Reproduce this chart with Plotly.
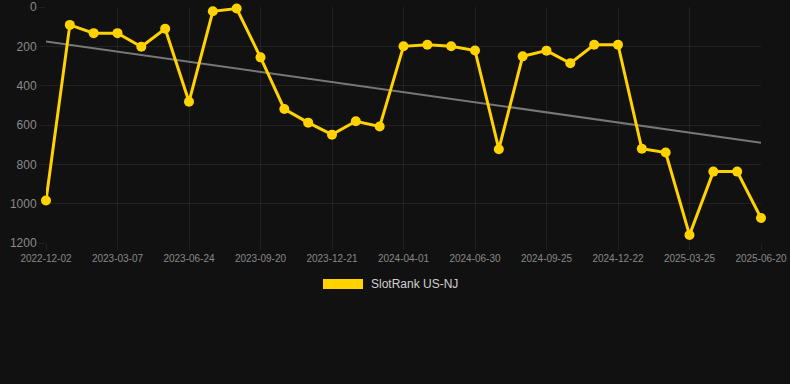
import numpy as np
import plotly.graph_objects as go

dates = [
    "2022-12-02", "2023-01-03", "2023-02-04", "2023-03-07", "2023-04-12", "2023-05-18",
    "2023-06-24", "2023-07-23", "2023-08-22", "2023-09-20", "2023-10-21", "2023-11-20",
    "2023-12-21", "2024-01-24", "2024-02-27", "2024-04-01", "2024-05-01", "2024-05-31",
    "2024-06-30", "2024-07-29", "2024-08-27", "2024-09-25", "2024-10-24", "2024-11-23",
    "2024-12-22", "2025-01-22", "2025-02-22", "2025-03-25", "2025-04-24", "2025-05-22",
    "2025-06-20",
]
ranks = [984, 91, 133, 133, 202, 111, 482, 22, 8, 256, 519, 588, 649, 581, 608,
         200, 192, 200, 221, 723, 251, 222, 286, 192, 192, 721, 740, 1159, 837, 837, 1073]
tick_labels = dates[::3]
y_ticks = [0, 200, 400, 600, 800, 1000, 1200]
series_name = "SlotRank US-NJ"

# linear trend fitted to the series
idx = np.arange(len(ranks))
slope, intercept = np.polyfit(idx, ranks, 1)
trend = [intercept, intercept + slope * idx[-1]]

BG = "#111111"
GRID = "rgba(255,255,255,0.07)"
GOLD = "#FFD200"

fig = go.Figure()
fig.add_trace(go.Scatter(
    x=[dates[0], dates[-1]], y=trend, mode="lines",
    line=dict(color="#777777", width=2), hoverinfo="skip", showlegend=False,
))
fig.add_trace(go.Scatter(
    x=dates, y=ranks, mode="lines+markers", name=series_name,
    line=dict(color=GOLD, width=3), marker=dict(color=GOLD, size=10),
    cliponaxis=False, showlegend=False,
))

fig.update_layout(
    width=790, height=384,
    paper_bgcolor=BG, plot_bgcolor=BG,
    margin=dict(l=46, r=29, t=7, b=141),
    font=dict(family="Liberation Sans, Arial, sans-serif", color="#8a8a8a"),
    showlegend=False,
)
fig.update_xaxes(
    type="category", categoryorder="array", categoryarray=dates,
    tickmode="array", tickvals=tick_labels, ticktext=tick_labels,
    showgrid=True, gridcolor=GRID, gridwidth=1, zeroline=False,
    showline=False, ticks="outside", ticklen=6, tickcolor=GRID,
    tickfont=dict(size=10, color="#888888"), range=[0, len(dates) - 1],
    automargin=False,
)
fig.update_yaxes(
    range=[1200, 0], tickmode="array", tickvals=y_ticks,
    showgrid=True, gridcolor=GRID, gridwidth=1, zeroline=False,
    showline=False, ticks="outside", ticklen=6, tickcolor=GRID,
    tickfont=dict(size=12, color="#8a8a8a"), automargin=False,
)

# legend drawn as a wide swatch + label
fig.add_shape(type="rect", xref="paper", yref="paper",
              x0=(323 - 46) / 715, x1=(363 - 46) / 715,
              y0=(243 - 289) / 236, y1=(243 - 279) / 236,
              fillcolor=GOLD, line=dict(width=0))
fig.add_annotation(xref="paper", yref="paper", x=(369 - 46) / 715, y=(243 - 284) / 236,
                   text=series_name, showarrow=False, xanchor="left", yanchor="middle",
                   font=dict(size=12, color="#d0d0d0"))

fig.write_html("out.html", config={"displayModeBar": False})

with open("out.html", "r", encoding="utf-8") as f:
    html = f.read()
html = html.replace("<body>", '<body style="margin:0;background:#111111;overflow:hidden">', 1)
with open("out.html", "w", encoding="utf-8") as f:
    f.write(html)
